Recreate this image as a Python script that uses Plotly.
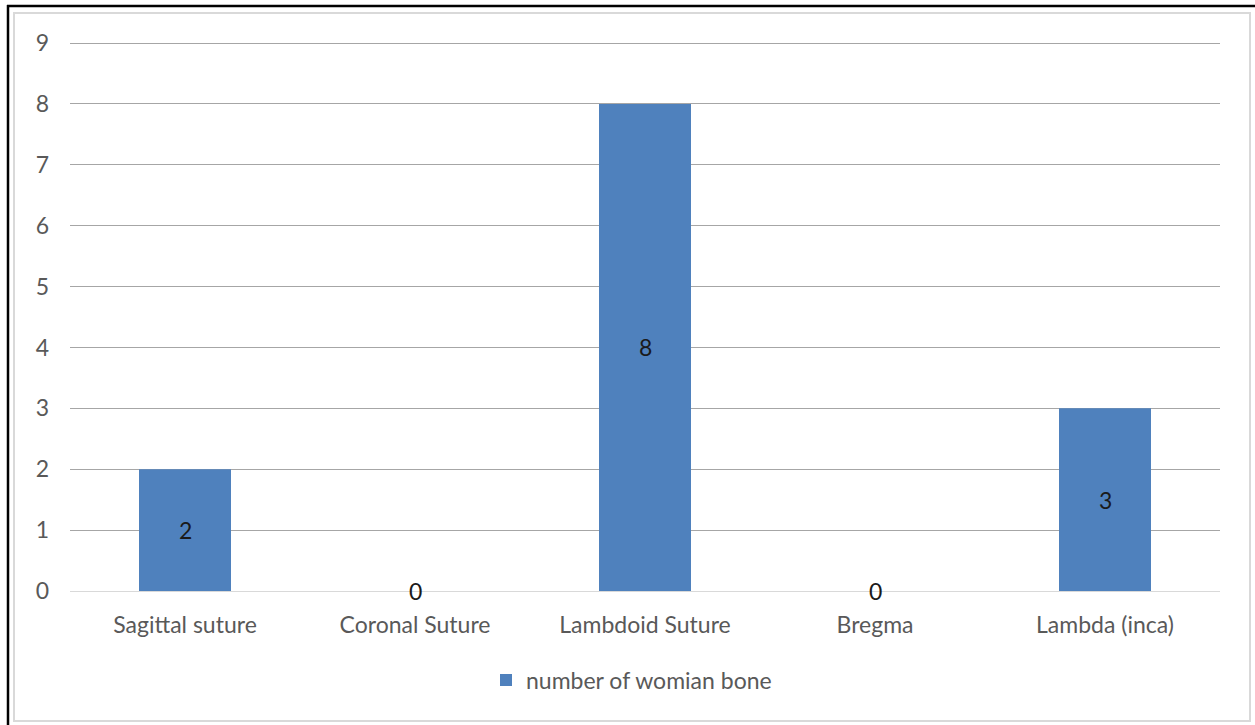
import plotly.graph_objects as go

categories = ["Sagittal suture", "Coronal Suture", "Lambdoid Suture", "Bregma", "Lambda (inca)"]
values = [2, 0, 8, 0, 3]
series_name = "number of womian bone"
y_ticks = [0, 1, 2, 3, 4, 5, 6, 7, 8, 9]

W, H = 1255, 725
YMAX = 9.05
L, R, B = 70, 1220, 591
T = B - round(548 * YMAX / 9)
FONT = "Lato"

def px(x):
    return (x - L) / (R - L)

def py(y):
    return (B - y) / (B - T)

fig = go.Figure()
fig.add_trace(go.Bar(
    x=categories, y=values, name=series_name,
    marker=dict(color="#4F81BD", line=dict(width=0)),
    width=0.4, hoverinfo="x+y",
))

annotations = [
    dict(x=c, y=v / 2, xref="x", yref="y", text=str(v), showarrow=False,
         yshift=0, font=dict(size=23, color="#1A1A1A", family=FONT))
    for c, v in zip(categories, values)
]

shapes = [
    dict(type="rect", xref="paper", yref="paper",
         x0=px(14), x1=px(1250), y0=py(721), y1=py(13),
         line=dict(color="#D9D9D9", width=2), fillcolor="rgba(0,0,0,0)", layer="below"),
    dict(type="line", xref="paper", yref="paper",
         x0=px(7), x1=px(1255), y0=py(6), y1=py(6),
         line=dict(color="#000000", width=2.5)),
    dict(type="line", xref="paper", yref="paper",
         x0=px(8), x1=px(8), y0=py(5), y1=py(725),
         line=dict(color="#000000", width=2.5)),
]

fig.update_layout(
    width=W, height=H,
    margin=dict(l=L, r=W - R, t=T, b=H - B),
    paper_bgcolor="white", plot_bgcolor="white",
    font=dict(family=FONT, size=23, color="#595959"),
    bargap=0.6,
    showlegend=True,
    legend=dict(orientation="h", x=px(486), xanchor="left", y=py(680), yanchor="middle",
                font=dict(size=23, color="#595959"), itemwidth=30),
    shapes=shapes,
    annotations=annotations,
    xaxis=dict(showgrid=False, showline=False, zeroline=False, ticks="",
               tickfont=dict(size=23, color="#595959"), ticklabelstandoff=18),
    yaxis=dict(range=[0, YMAX], tickvals=y_ticks, showgrid=True, gridcolor="#A6A6A6",
               gridwidth=1, zeroline=True, zerolinecolor="#D9D9D9", zerolinewidth=1,
               showline=False, ticks="", ticklabelstandoff=20,
               tickfont=dict(size=23, color="#595959")),
)

fig.write_html("out.html", config={"displayModeBar": False},
               post_script="document.body.style.margin='0px';")
